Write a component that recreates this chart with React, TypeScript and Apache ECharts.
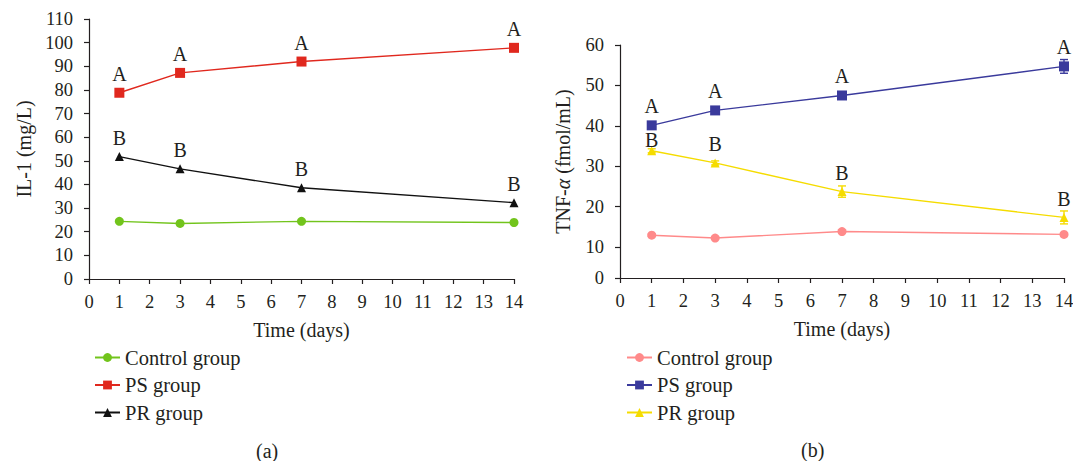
import React, { useEffect, useRef } from "react";
import * as echarts from "echarts";

const days = [1, 3, 7, 14];
const xTicks = [0, 14];

// (a) IL-1 (mg/L)
const il1Control = [24.4, 23.5, 24.4, 23.9];
const il1PS = [78.8, 87.2, 92.0, 97.8];
const il1PR = [51.8, 46.6, 38.6, 32.3];
const il1PSLetters = ["A", "A", "A", "A"];
const il1PRLetters = ["B", "B", "B", "B"];

// (b) TNF-α (fmol/mL)
const tnfControl = [12.9, 12.2, 13.8, 13.1];
const tnfPS = [40.1, 43.8, 47.5, 54.7];
const tnfPR = [33.8, 30.8, 23.7, 17.3];
const tnfControlErr = [0.3, 0.3, 0.3, 0.3];
const tnfPSErr = [0.5, 0.5, 0.5, 1.7];
const tnfPRErr = [0.5, 0.5, 1.4, 1.6];
const tnfPSLetters = ["A", "A", "A", "A"];
const tnfPRLetters = ["B", "B", "B", "B"];
const tnfYLabels = [2.3, 10, 20, 30, 40, 50, 60];

const seriesNames = ["Control group", "PS group", "PR group"];

const FONT = "Liberation Serif";
const TXT = "#231f20";

function axisCommon() {
  return {
    axisLine: { show: true, lineStyle: { color: TXT, width: 1.2 } },
    axisTick: { show: true, length: 5, lineStyle: { color: TXT, width: 1.2 } },
    splitLine: { show: false },
    axisLabel: { color: TXT, fontFamily: FONT, fontSize: 18.5, margin: 16 },
    nameTextStyle: { color: TXT, fontFamily: FONT, fontSize: 20 },
  };
}

function lineSeries(name: string, values: number[], color: string, symbol: string, size: number, letters?: string[], offsets?: number[][]) {
  return {
    type: "line",
    name,
    data: values.map((v, i) => {
      const item: any = { value: [days[i], v] };
      if (offsets && offsets[i]) item.label = { offset: offsets[i] };
      return item;
    }),
    symbol,
    symbolSize: size,
    showAllSymbol: true,
    z: 3,
    lineStyle: { color, width: 1.4 },
    itemStyle: { color },
    label: letters
      ? {
          show: true,
          position: "top",
          distance: 4,
          color: TXT,
          fontFamily: FONT,
          fontSize: 20,
          formatter: (p: any) => letters[p.dataIndex],
        }
      : { show: false },
    emphasis: { disabled: true },
  };
}

function errSeries(values: number[], errs: number[], color: string) {
  return {
    type: "custom",
    z: 2,
    silent: true,
    data: values.map((v, i) => [days[i], v, errs[i]]),
    renderItem: (params: any, api: any) => {
      const x = api.value(0);
      const y = api.value(1);
      const e = api.value(2);
      const lo = api.coord([x, y - e]);
      const hi = api.coord([x, y + e]);
      const w = 4;
      const style = { stroke: color, lineWidth: 1.4 };
      return {
        type: "group",
        children: [
          { type: "line", shape: { x1: lo[0], y1: lo[1], x2: hi[0], y2: hi[1] }, style },
          { type: "line", shape: { x1: lo[0] - w, y1: lo[1], x2: lo[0] + w, y2: lo[1] }, style },
          { type: "line", shape: { x1: hi[0] - w, y1: hi[1], x2: hi[0] + w, y2: hi[1] }, style },
        ],
      };
    },
  };
}

function legend(left: number) {
  return {
    orient: "vertical",
    left,
    top: 342,
    itemWidth: 25,
    itemHeight: 11,
    itemGap: 6.5,
    textStyle: { color: TXT, fontFamily: FONT, fontSize: 20.5, lineHeight: 19, padding: [0, 0, 0, 0] },
    selectedMode: false,
    data: seriesNames,
  };
}

function xAxis() {
  const c = axisCommon();
  return {
    type: "value",
    min: xTicks[0],
    max: xTicks[1],
    interval: 1,
    name: "Time (days)",
    nameLocation: "middle",
    nameGap: 41,
    ...c,
    axisLabel: { ...c.axisLabel, margin: 13 },
  };
}

function titleText(text: string, left: number, top: number) {
  return {
    text,
    left,
    top,
    padding: 0,
    textStyle: { color: TXT, fontFamily: FONT, fontSize: 20, fontWeight: "normal" },
  };
}

function leftOption() {
  const c = axisCommon();
  return {
    animation: false,
    grid: { left: 89, right: 26, top: 19, bottom: 182, outerBoundsMode: "none" },
    legend: legend(89),
    title: titleText("(a)", 256, 441),
    xAxis: xAxis(),
    yAxis: {
      type: "value",
      min: 0,
      max: 110,
      interval: 10,
      name: "IL-1 (mg/L)",
      nameLocation: "middle",
      nameGap: 55,
      ...c,
    },
    series: [
      lineSeries(seriesNames[0], il1Control, "#72c41c", "circle", 9),
      lineSeries(seriesNames[1], il1PS, "#e0281e", "rect", 10, il1PSLetters),
      lineSeries(seriesNames[2], il1PR, "#111111", "triangle", 9, il1PRLetters),
    ],
  };
}

function rightOption() {
  const c = axisCommon();
  return {
    animation: false,
    grid: { left: 80, right: 9, top: 45, bottom: 183, outerBoundsMode: "none" },
    legend: legend(81),
    title: titleText("(b)", 261, 440),
    xAxis: xAxis(),
    yAxis: {
      type: "value",
      min: tnfYLabels[0],
      max: tnfYLabels[tnfYLabels.length - 1],
      name: "TNF-{i|α} (fmol/mL)",
      nameLocation: "middle",
      nameGap: 47,
      ...c,
      nameTextStyle: {
        ...c.nameTextStyle,
        rich: { i: { fontStyle: "italic", fontFamily: FONT, fontSize: 20, color: TXT } },
      },
      axisTick: { ...c.axisTick, customValues: tnfYLabels },
      axisLabel: {
        ...c.axisLabel,
        customValues: tnfYLabels,
        formatter: (v: number) => (v < 5 ? "0" : String(Math.round(v))),
      },
    },
    series: [
      errSeries(tnfControl, tnfControlErr, "#ff8a8a"),
      errSeries(tnfPS, tnfPSErr, "#3a3a9c"),
      errSeries(tnfPR, tnfPRErr, "#f5dc00"),
      lineSeries(seriesNames[0], tnfControl, "#ff8a8a", "circle", 9),
      lineSeries(seriesNames[1], tnfPS, "#3a3a9c", "rect", 10, tnfPSLetters),
      lineSeries(seriesNames[2], tnfPR, "#f5dc00", "triangle", 9, tnfPRLetters, [[0, 8], null, null, null] as any),
    ],
  };
}

function Chart({ option, style }: { option: any; style: React.CSSProperties }) {
  const ref = useRef<HTMLDivElement>(null);
  useEffect(() => {
    if (!ref.current) return;
    const chart = echarts.init(ref.current, undefined, { renderer: "svg" });
    chart.setOption(option);
    return () => chart.dispose();
  }, [option]);
  return <div ref={ref} style={style} />;
}

const optA = leftOption();
const optB = rightOption();

export default function App() {
  return (
    <div style={{ position: "absolute", left: 0, top: 0, width: 1073, height: 461, background: "#fff" }}>
      <Chart option={optA} style={{ position: "absolute", left: 0, top: 0, width: 540, height: 461 }} />
      <Chart option={optB} style={{ position: "absolute", left: 540, top: 0, width: 533, height: 461 }} />
    </div>
  );
}
